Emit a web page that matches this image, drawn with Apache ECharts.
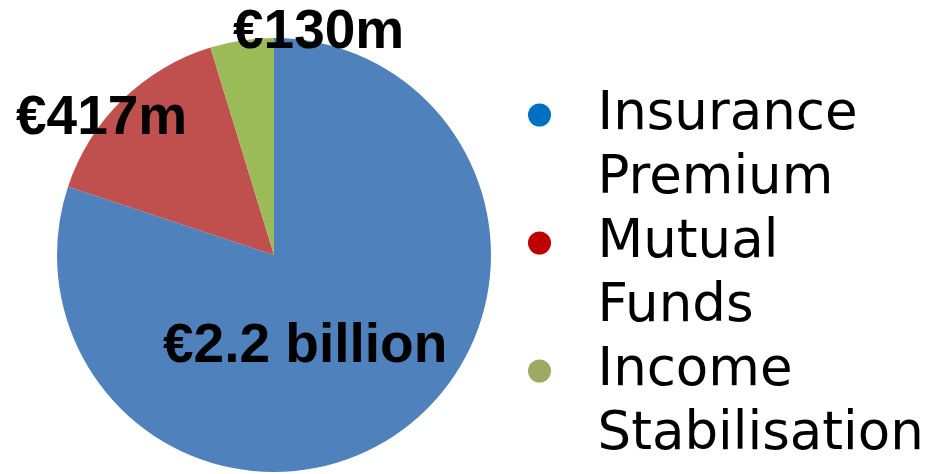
<!DOCTYPE html>
<html>
<head>
<meta charset="utf-8">
<script src="https://cdn.jsdelivr.net/npm/echarts@6/dist/echarts.min.js"></script>
<style>
  html, body { margin: 0; padding: 0; background: #fff; }
  #chart { width: 934px; height: 474px; }
</style>
</head>
<body>
<div id="chart"></div>
<script>
const categories = ['Insurance Premium', 'Mutual Funds', 'Income Stabilisation']
const values = [2200, 417, 130]
const valueLabels = ['€2.2 billion', '€417m', '€130m']
const sliceColors = ['#4F81BD', '#C0504D', '#9BBB59']
const legendColors = ['#0070C0', '#C00000', '#9CAA64']

// where each value label sits (left edge, vertical middle)
const labelSpots = [[163, 347], [16, 119], [233, 33]]

const chart = echarts.init(document.getElementById('chart'))

chart.setOption({
  backgroundColor: '#fff',
  animation: false,
  legend: {
    orient: 'vertical',
    left: 528,
    top: 19,
    padding: 0,
    itemGap: -64,
    itemWidth: 106,
    itemHeight: 23,
    icon: 'circle',
    selectedMode: false,
    data: categories.map((name, i) => ({ name, itemStyle: { color: legendColors[i] } })),
    formatter: name => '\n' + name.replace(' ', '\n'),
    textStyle: {
      fontFamily: 'DejaVu Sans',
      fontSize: 53,
      lineHeight: 64,
      color: '#000',
    },
  },
  series: [{
    type: 'pie',
    center: [274, 255],
    radius: 217,
    startAngle: 90,
    clockwise: true,
    silent: true,
    data: categories.map((name, i) => ({
      name,
      value: values[i],
      itemStyle: { color: sliceColors[i] },
    })),
    label: {
      show: true,
      position: 'inside',
      formatter: p => valueLabels[p.dataIndex],
      fontFamily: 'Liberation Sans',
      fontWeight: 'bold',
      fontSize: 55,
      color: '#000',
    },
    labelLine: { show: false },
    labelLayout: p => ({
      x: labelSpots[p.dataIndex][0],
      y: labelSpots[p.dataIndex][1],
      align: 'left',
      verticalAlign: 'middle',
    }),
  }],
})
</script>
</body>
</html>
